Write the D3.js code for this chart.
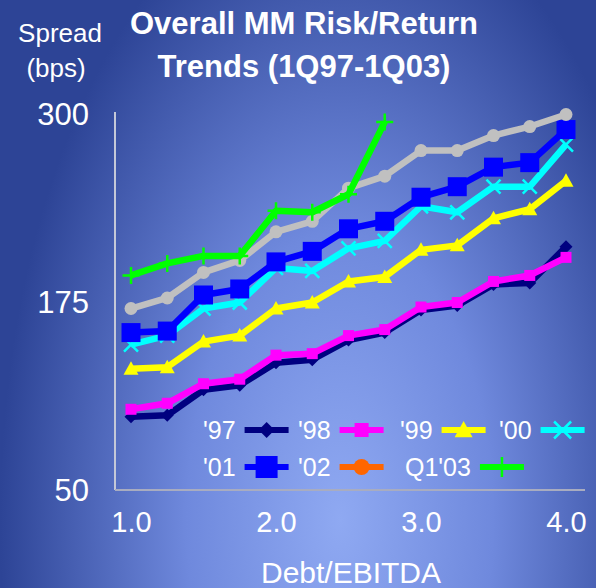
<!DOCTYPE html>
<html>
<head>
<meta charset="utf-8">
<script src="https://cdn.jsdelivr.net/npm/d3@7"></script>
<style>
  html, body { margin: 0; padding: 0; background: #2e4597; }
  svg { display: block; font-family: "Liberation Sans", Arial, sans-serif; }
</style>
</head>
<body>
<svg id="chart" width="596" height="588"></svg>
<script>
// data
const debtEbitda = [1.0, 1.25, 1.5, 1.75, 2.0, 2.25, 2.5, 2.75, 3.0, 3.25, 3.5, 3.75, 4.0];

const spread97 = [98, 99, 116, 119, 134, 136, 149, 154, 169, 172, 186, 187, 211];
const spread98 = [103, 107, 120, 123, 139, 140, 152, 156, 171, 174, 188, 192, 204];
const spread99 = [130, 131, 148, 152, 170, 174, 188, 191, 209, 212, 230, 236, 255];
const spread00 = [146, 152, 170, 174, 197, 195, 210, 215, 238, 234, 251, 251, 279];
const spread01 = [154, 155, 179, 183, 201, 208, 223, 228, 244, 251, 264, 267, 289];
const spread02 = [170, 177, 194, 202, 221, 228, 250, 258, 275, 275, 285, 291, 299];
const spreadQ103 = [192, 200, 205, 205, 235, 234, 246, 294];

const seriesNames = ["'97", "'98", "'99", "'00", "'01", "'02", "Q1'03"];
const yTicks = [50, 175, 300];
const xTicks = [1, 2, 3, 4];

// how each series is drawn (line colour, legend colour, marker)
let series = [
    {name: seriesNames[0], values: spread97, color: "#000080", legendColor: "#000080", marker: "diamond", size: 13},
    {name: seriesNames[1], values: spread98, color: "#ff00ff", legendColor: "#ff00ff", marker: "square", size: 11},
    {name: seriesNames[2], values: spread99, color: "#ffff00", legendColor: "#ffff00", marker: "triangle", size: 15},
    {name: seriesNames[3], values: spread00, color: "#00ffff", legendColor: "#00ffff", marker: "x", size: 14},
    {name: seriesNames[4], values: spread01, color: "#0000ff", legendColor: "#0000ff", marker: "square", size: 19},
    {name: seriesNames[5], values: spread02, color: "#c0c0c0", legendColor: "#ff6600", marker: "circle", size: 13},
    {name: seriesNames[6], values: spreadQ103, color: "#00ff00", legendColor: "#00ff00", marker: "plus", size: 17}
];

let svg = d3.select("#chart");

// background
let defs = svg.append("defs");
let grad = defs.append("radialGradient")
    .attr("id", "bg")
    .attr("gradientUnits", "userSpaceOnUse")
    .attr("cx", 0).attr("cy", 0).attr("r", 1)
    .attr("gradientTransform", "translate(340,520) scale(340,640)");
grad.append("stop").attr("offset", "0").attr("stop-color", "#8fa9f2");
grad.append("stop").attr("offset", "0.45").attr("stop-color", "#6f89dd");
grad.append("stop").attr("offset", "1").attr("stop-color", "#2d4496");

svg.append("rect")
    .attr("width", 596).attr("height", 588)
    .attr("fill", "url(#bg)");

// scales
let x = d3.scaleLinear().domain([1, 4]).range([131, 566]);
let y = d3.scaleLinear().domain([50, 300]).range([489, 113]);

// axis lines
svg.append("line")
    .attr("x1", 115).attr("x2", 115)
    .attr("y1", y(300) - 1).attr("y2", y(50) + 1)
    .attr("stroke", "#c4c8d8").attr("stroke-width", 2);
svg.append("line")
    .attr("x1", 115).attr("x2", 585)
    .attr("y1", y(50) + 1).attr("y2", y(50) + 1)
    .attr("stroke", "#a8acc0").attr("stroke-width", 2);

// axes (labels only)
let yAxis = svg.append("g")
    .attr("transform", "translate(115,0)")
    .call(d3.axisLeft(y).tickValues(yTicks).tickSize(0).tickPadding(26));
yAxis.select(".domain").remove();
yAxis.selectAll("text")
    .attr("fill", "white")
    .attr("font-size", 31)
    .attr("font-family", "Liberation Sans, Arial, sans-serif")
    .attr("dy", "0.36em");

let xAxis = svg.append("g")
    .attr("transform", "translate(0," + (y(50) + 1) + ")")
    .call(d3.axisBottom(x).tickValues(xTicks).tickFormat(d3.format(".1f")).tickSize(0).tickPadding(21));
xAxis.select(".domain").remove();
xAxis.selectAll("text")
    .attr("fill", "white")
    .attr("font-size", 29)
    .attr("font-family", "Liberation Sans, Arial, sans-serif")
    .attr("dy", "0.71em");

// titles
svg.append("text")
    .attr("x", 304).attr("y", 34)
    .attr("text-anchor", "middle")
    .attr("fill", "white").attr("font-weight", "bold").attr("font-size", 31)
    .text("Overall MM Risk/Return");
svg.append("text")
    .attr("x", 304).attr("y", 77)
    .attr("text-anchor", "middle")
    .attr("fill", "white").attr("font-weight", "bold").attr("font-size", 31)
    .text("Trends (1Q97-1Q03)");

svg.append("text")
    .attr("x", 60).attr("y", 42)
    .attr("text-anchor", "middle")
    .attr("fill", "white").attr("font-size", 26)
    .text("Spread");
svg.append("text")
    .attr("x", 56).attr("y", 77)
    .attr("text-anchor", "middle")
    .attr("fill", "white").attr("font-size", 26)
    .text("(bps)");

svg.append("text")
    .attr("x", 351).attr("y", 583)
    .attr("text-anchor", "middle")
    .attr("fill", "white").attr("font-size", 30)
    .text("Debt/EBITDA");

// marker drawing, relative to its centre
function markerPath(type, s) {
    let h = s / 2;
    if (type == "diamond") return "M0," + (-h) + "L" + h + ",0L0," + h + "L" + (-h) + ",0Z";
    if (type == "square") return "M" + (-h) + "," + (-h) + "H" + h + "V" + h + "H" + (-h) + "Z";
    if (type == "triangle") return "M0," + (-h) + "L" + h + "," + (h * 0.8) + "L" + (-h) + "," + (h * 0.8) + "Z";
    if (type == "circle") return d3.symbol(d3.symbolCircle, Math.PI * h * h)();
    if (type == "x") return "M" + (-h) + "," + (-h) + "L" + h + "," + h + "M" + (-h) + "," + h + "L" + h + "," + (-h);
    if (type == "plus") return "M" + (-h) + ",0H" + h + "M0," + (-h) + "V" + h;
}

function drawMarker(sel, s, color) {
    let stroked = (s.marker == "x" || s.marker == "plus");
    sel.attr("d", markerPath(s.marker, s.size))
        .attr("fill", stroked ? "none" : color)
        .attr("stroke", stroked ? color : "none")
        .attr("stroke-width", stroked ? 2.5 : 0);
}

// lines and markers
let line = d3.line()
    .x((d, i) => x(debtEbitda[i]))
    .y(d => y(d));

for (let s of series) {
    let g = svg.append("g");
    g.append("path")
        .attr("d", line(s.values))
        .attr("fill", "none")
        .attr("stroke", s.color)
        .attr("stroke-width", 6.5)
        .attr("stroke-linejoin", "round");
    g.selectAll("path.mk")
        .data(s.values)
        .enter()
        .append("path")
        .attr("class", "mk")
        .attr("transform", (d, i) => "translate(" + x(debtEbitda[i]) + "," + y(d) + ")")
        .call(drawMarker, s, s.color);
}

// legend
const legendRows = [[0, 1, 2, 3], [4, 5, 6]];
const legendStarts = [[203, 298, 400, 499], [203, 298, 405]];
const legendY = [430, 467];

legendRows.forEach((row, r) => {
    row.forEach((idx, j) => {
        let s = series[idx];
        let g = svg.append("g");
        let t = g.append("text")
            .attr("x", legendStarts[r][j])
            .attr("y", legendY[r])
            .attr("dy", "0.35em")
            .attr("fill", "white")
            .attr("font-size", 25)
            .text(s.name);
        let x0 = legendStarts[r][j] + t.node().getComputedTextLength() + 9;
        g.append("line")
            .attr("x1", x0).attr("x2", x0 + 44)
            .attr("y1", legendY[r]).attr("y2", legendY[r])
            .attr("stroke", s.legendColor)
            .attr("stroke-width", 6);
        let ls = Object.assign({}, s, {size: s.size + 3});
        g.append("path")
            .attr("transform", "translate(" + (x0 + 22) + "," + legendY[r] + ")")
            .call(drawMarker, ls, s.legendColor);
    });
});
</script>
</body>
</html>
